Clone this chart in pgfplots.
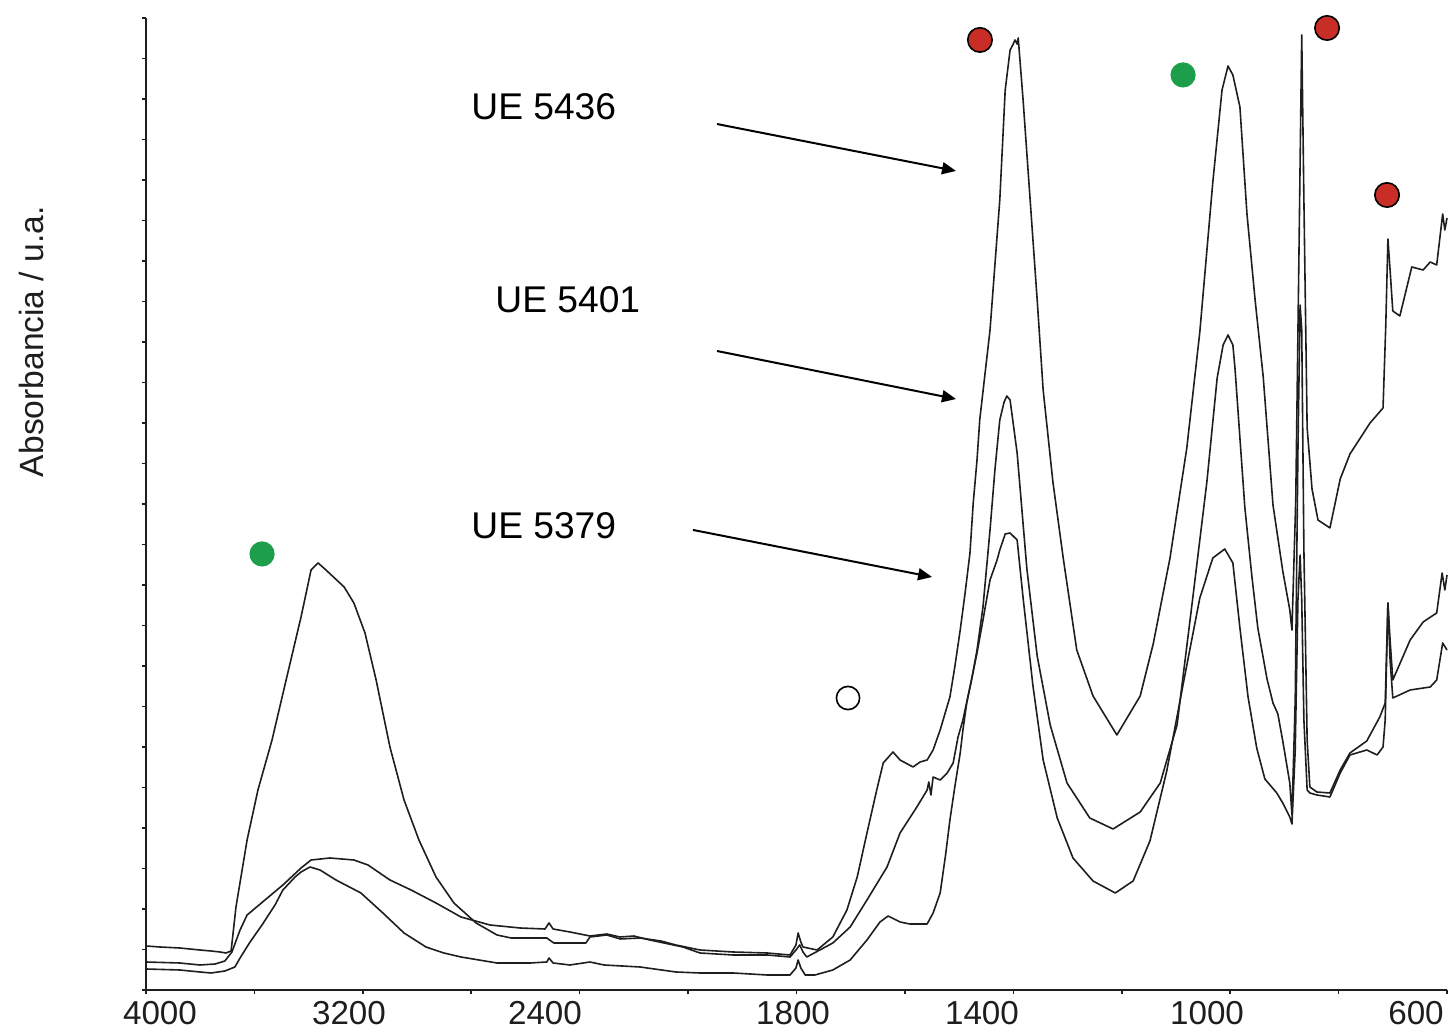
\documentclass[border=0pt]{standalone}
\usepackage{pgfplots}
\pgfplotsset{compat=1.18}
\usepackage{fontspec}
\setmainfont{Liberation Sans}
\usetikzlibrary{arrows.meta}
\definecolor{redc}{RGB}{200,45,38}
\definecolor{greenc}{RGB}{28,158,74}
\definecolor{ink}{RGB}{30,30,30}
\tikzset{
  tlab/.style={anchor=base, inner sep=0pt, text=ink, font=\fontsize{16.6}{20}\selectfont},
  uelab/.style={anchor=base west, inner sep=0pt, font=\fontsize{18.6}{22}\selectfont},
  spec/.style={line width=0.8pt, draw=ink, mark=none, line join=round},
}
\begin{document}
\begin{tikzpicture}
\begin{axis}[
  scale only axis, width=650.5pt, height=486pt,
  x coord trafo/.code={\pgfmathparse{#1>=2000 ? (4000-#1)/400 : 5+(2000-#1)/200}},
  x coord inv trafo/.code={\pgfmathparse{#1<=5 ? 4000-400*#1 : 2000-200*(#1-5)}},
  xmin=4000, xmax=600, ymin=0, ymax=972,
  axis x line*=bottom, axis y line*=left,
  axis line style={line width=1pt, ink},
  xtick={4000,3600,3200,2800,2400,2000,1800,1600,1400,1200,1000,800,600},
  ytick={0,40.5,...,972},
  xticklabels={}, yticklabels={},
  tick align=outside, major tick length=2.2pt,
  tick style={line width=0.8pt, ink},
  clip=false,
]
% UE 5436
\addplot[spec] coordinates {
(4000,44)(3948,43)(3875,42)(3801,40)(3760,39)(3727,38)(3705,37)(3686,39)(3668,83)(3627,150)
(3587,200)(3535,250)(3483,310)(3428,373)(3391,420)(3365,427)(3336,420)(3269,403)(3233,387)(3192,357)
(3151,310)(3100,243)(3048,190)(2993,150)(2930,113)(2864,87)(2782,67)(2705,55)(2653,52)(2521,52)
(2506,49)(2495,47)(2377,47)(2362,53)(2300,55)(2250,51)(2177,52)(2100,49)(2045,45)(1978,40)(1917,38)(1854,37)(1812,35)
(1801,45)(1797,57)(1792,48)(1788,43)(1762,40)(1733,53)(1707,80)(1688,113)(1670,157)(1652,200)
(1640,227)(1622,238)(1609,230)(1585,223)(1572,228)(1559,230)(1548,240)(1535,260)(1517,293)(1508,323)
(1498,360)(1489,397)(1480,437)(1474,487)(1467,530)(1462,570)(1443,660)(1425,790)(1415,900)(1406,940)(1401,945)(1397,950)
(1393,946)(1391,952)(1382,890)(1369,790)(1356,690)(1345,600)(1327,508)(1308,432)(1283,340)(1253,294)
(1209,255)(1166,294)(1142,346)(1111,432)(1080,542)(1056,658)(1032,808)(1015,900)(1004,924)(995,915)
(982,883)(969,776)(954,690)(939,613)(921,485)(903,419)(890,380)(886,360)(879,490)(873,740)
(868,955)(864,790)(858,562)(849,501)(838,470)(816,462)(797,511)(779,536)(742,567)(718,582)
(713,664)(709,751)(705,720)(700,679)(687,674)(665,723)(644,720)(631,728)(619,725)(608,776)
(604,760)(600,772)
};
% UE 5379
\addplot[spec] coordinates {
(4000,28)(3875,27)(3801,25)(3745,26)(3709,29)(3683,38)(3653,60)(3627,75)(3561,90)(3495,105)
(3428,122)(3391,130)(3321,132)(3233,130)(3181,125)(3100,110)(3022,100)(2930,87)(2838,73)(2731,65)
(2620,62)(2528,61)(2513,67)(2498,61)(2436,58)(2362,54)(2300,56)(2251,53)(2200,54)(2141,50)(2019,43)(1978,37)
(1917,35)(1854,35)(1812,33)(1801,40)(1794,45)(1788,38)(1781,33)(1733,47)(1701,63)(1670,90)
(1633,123)(1609,157)(1578,183)(1559,200)(1556,208)(1552,195)(1548,213)(1535,210)(1522,217)(1511,227)
(1502,253)(1493,270)(1480,303)(1467,337)(1456,370)(1443,410)(1430,430)(1425,440)(1415,456)(1406,457)
(1393,450)(1382,392)(1364,305)(1345,230)(1319,172)(1290,132)(1253,109)(1212,97)(1179,109)(1148,149)
(1117,219)(1087,305)(1056,392)(1032,432)(1010,441)(995,427)(982,362)(967,293)(951,242)(936,211)
(914,197)(903,187)(890,173)(886,166)(880,240)(875,390)(871,435)(868,390)(864,270)(858,200)
(853,197)(840,195)(816,193)(797,217)(779,235)(748,240)(729,235)(718,243)(714,270)(709,387)
(705,330)(700,292)(668,300)(631,303)(619,310)(608,347)(600,340)
};
% UE 5401
\addplot[spec] coordinates {
(4000,21)(3875,20)(3801,18)(3760,17)(3709,19)(3672,23)(3653,32)(3616,48)(3572,65)(3524,85)
(3495,100)(3450,113)(3428,118)(3395,123)(3358,120)(3299,110)(3207,97)(3126,77)(3048,57)(2967,43)
(2901,37)(2838,33)(2705,27)(2583,27)(2521,28)(2513,32)(2498,27)(2436,25)(2362,28)(2310,25)
(2177,23)(2045,18)(1978,17)(1917,17)(1854,15)(1812,15)(1801,22)(1797,30)(1792,22)(1784,15)
(1766,15)(1733,20)(1701,30)(1670,50)(1646,68)(1631,74)(1609,68)(1591,66)(1559,66)(1548,77)
(1535,97)(1525,135)(1517,170)(1508,203)(1498,237)(1493,260)(1486,287)(1476,313)(1467,340)(1456,383)
(1443,460)(1434,520)(1425,570)(1417,588)(1412,594)(1406,590)(1393,537)(1375,421)(1356,334)(1332,265)
(1301,207)(1259,172)(1216,161)(1166,178)(1129,207)(1098,265)(1069,392)(1043,508)(1024,612)(1013,645)
(1004,655)(995,645)(991,621)(982,552)(973,483)(960,414)(949,362)(932,311)(921,287)(912,276)
(903,249)(890,207)(886,175)(880,290)(875,540)(871,685)(868,660)(864,440)(858,250)(853,203)
(840,198)(816,197)(797,220)(779,237)(748,249)(724,273)(714,287)(709,387)(705,350)(700,310)
(668,350)(644,368)(619,377)(609,417)(604,400)(600,415)
};
\coordinate (O) at (rel axis cs:0,0);
% markers
\filldraw[fill=redc, draw=black, line width=0.8pt] (rel axis cs:0.6410,0.9774) circle[radius=6.1pt];
\filldraw[fill=redc, draw=black, line width=0.8pt] (rel axis cs:0.9078,0.9897) circle[radius=6.1pt];
\filldraw[fill=redc, draw=black, line width=0.8pt] (rel axis cs:0.9539,0.8179) circle[radius=6.1pt];
\fill[greenc] (rel axis cs:0.7971,0.9414) circle[radius=6.3pt];
\fill[greenc] (rel axis cs:0.0892,0.4486) circle[radius=6.3pt];
\filldraw[fill=white, draw=black, line width=0.8pt] (rel axis cs:0.5396,0.3004) circle[radius=5.8pt];
% sample labels and arrows
\node[uelab] at (rel axis cs:0.2498,0.8951) {UE 5436};
\node[uelab] at (rel axis cs:0.2683,0.6965) {UE 5401};
\node[uelab] at (rel axis cs:0.2498,0.4640) {UE 5379};
\draw[line width=1pt, -{Triangle[length=7pt,width=6pt]}] (rel axis cs:0.4389,0.8909) -- (rel axis cs:0.6226,0.8426);
\draw[line width=1pt, -{Triangle[length=7pt,width=6pt]}] (rel axis cs:0.4389,0.6574) -- (rel axis cs:0.6226,0.6080);
\draw[line width=1pt, -{Triangle[length=7pt,width=6pt]}] (rel axis cs:0.4204,0.4733) -- (rel axis cs:0.6042,0.4249);
% tick labels
\node[tlab] at (rel axis cs:0.01076,-0.0360) {4000};
\node[tlab] at (rel axis cs:0.15603,-0.0360) {3200};
\node[tlab] at (rel axis cs:0.30669,-0.0360) {2400};
\node[tlab] at (rel axis cs:0.49731,-0.0360) {1800};
\node[tlab] at (rel axis cs:0.64258,-0.0360) {1400};
\node[tlab] at (rel axis cs:0.81553,-0.0360) {1000};
\node[tlab] at (rel axis cs:0.97617,-0.0360) {600};
% y label
\node[rotate=90, inner sep=0pt, text=ink, font=\fontsize{16.8}{20}\selectfont] at (rel axis cs:-0.0884,0.667) {Absorbancia / u.a.};
\end{axis}
\pgfresetboundingbox
\path[use as bounding box] ([shift={(-73pt,-20.5pt)}]O) rectangle ([shift={(654.5pt,495pt)}]O);
\end{tikzpicture}
\end{document}
